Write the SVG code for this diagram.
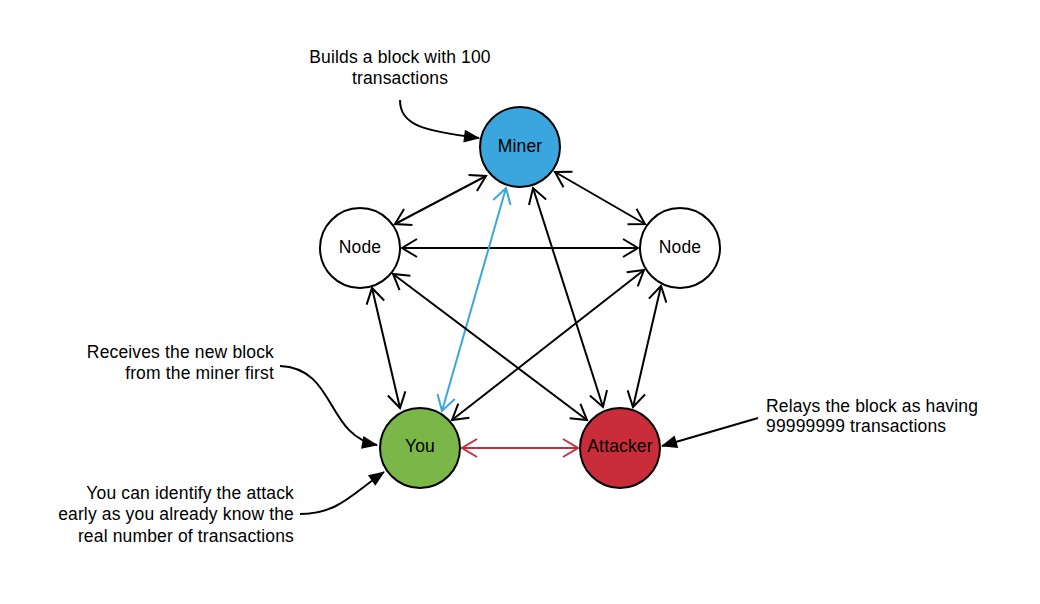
<svg xmlns="http://www.w3.org/2000/svg" width="1040" height="604" viewBox="0 0 1040 604">
<defs>
<style>
.n{stroke:#000;stroke-width:2}
.t{font-family:"Liberation Sans",Arial,sans-serif;font-size:17.5px;letter-spacing:0.15px;fill:#000}
.c{fill:none;stroke:#000;stroke-width:2}
.blue{stroke:#3aa6dd}
.red{stroke:#c92d39}
</style>
<marker id="o" markerUnits="userSpaceOnUse" viewBox="-17 -11 20 22" refX="0" refY="0" markerWidth="20" markerHeight="22" orient="auto-start-reverse">
<path d="M-15,-9 L0,0 L-15,9" fill="none" stroke="#000" stroke-width="2"/>
</marker>
<marker id="ob" markerUnits="userSpaceOnUse" viewBox="-17 -11 20 22" refX="0" refY="0" markerWidth="20" markerHeight="22" orient="auto-start-reverse">
<path d="M-15,-9 L0,0 L-15,9" fill="none" stroke="#3aa6dd" stroke-width="2"/>
</marker>
<marker id="or" markerUnits="userSpaceOnUse" viewBox="-17 -11 20 22" refX="0" refY="0" markerWidth="20" markerHeight="22" orient="auto-start-reverse">
<path d="M-15,-9 L0,0 L-15,9" fill="none" stroke="#c92d39" stroke-width="2"/>
</marker>
<marker id="f" markerUnits="userSpaceOnUse" viewBox="-16 -8 18 16" refX="0" refY="0" markerWidth="18" markerHeight="16" orient="auto">
<path d="M-15,-6.5 L1,0 L-15,6.5 Z" fill="#000"/>
</marker>
</defs>
<rect width="1040" height="604" fill="#fff"/>
<g id="connectors">
<line class="c" x1="486" y1="176" x2="395" y2="224" marker-start="url(#o)" marker-end="url(#o)"/>
<line class="c" x1="555" y1="172" x2="645" y2="224" marker-start="url(#o)" marker-end="url(#o)"/>
<line class="c" x1="402" y1="248" x2="638" y2="248" marker-start="url(#o)" marker-end="url(#o)"/>
<line class="c blue" x1="506" y1="188" x2="442" y2="411" marker-start="url(#ob)" marker-end="url(#ob)"/>
<line class="c" x1="533" y1="188" x2="603" y2="407" marker-start="url(#o)" marker-end="url(#o)"/>
<line class="c" x1="372" y1="288" x2="400" y2="408" marker-start="url(#o)" marker-end="url(#o)"/>
<line class="c" x1="393" y1="274" x2="587" y2="420" marker-start="url(#o)" marker-end="url(#o)"/>
<line class="c" x1="644" y1="270" x2="452" y2="420" marker-start="url(#o)" marker-end="url(#o)"/>
<line class="c" x1="661" y1="286" x2="633" y2="407" marker-start="url(#o)" marker-end="url(#o)"/>
<line class="c red" x1="462" y1="448" x2="578" y2="448" marker-start="url(#or)" marker-end="url(#or)"/>
<path class="c" d="M400,100 C400,126 425,131 479,138" marker-end="url(#f)"/>
<path class="c" d="M280,366 C336,368 326,436 377,445" marker-end="url(#f)"/>
<path class="c" d="M300,514 C338,514 352,494 384,472" marker-end="url(#f)"/>
<path class="c" d="M758,418 L662,446" marker-end="url(#f)"/>
</g>
<g id="miner">
<circle class="n" cx="520" cy="147" r="40" fill="#3aa6dd"/>
<text class="t" x="520" y="151.5" text-anchor="middle">Miner</text>
</g>
<g id="node-left">
<circle class="n" cx="360" cy="248" r="40" fill="#fff"/>
<text class="t" x="360" y="252.5" text-anchor="middle">Node</text>
</g>
<g id="node-right">
<circle class="n" cx="680" cy="248" r="40" fill="#fff"/>
<text class="t" x="680" y="252.5" text-anchor="middle">Node</text>
</g>
<g id="you">
<circle class="n" cx="420" cy="448" r="40" fill="#7ab648"/>
<text class="t" x="420" y="451.5" text-anchor="middle">You</text>
</g>
<g id="attacker">
<circle class="n" cx="620" cy="448" r="40" fill="#c92d39"/>
<text class="t" x="620" y="451.5" text-anchor="middle">Attacker</text>
</g>
<g id="note-miner">
<text class="t" text-anchor="middle"><tspan x="400" y="63">Builds a block with 100</tspan><tspan x="400" y="84">transactions</tspan></text>
</g>
<g id="note-receives">
<text class="t" text-anchor="end"><tspan x="274" y="357.5">Receives the new block</tspan><tspan x="274" y="379">from the miner first</tspan></text>
</g>
<g id="note-identify">
<text class="t" text-anchor="end"><tspan x="294" y="498.5">You can identify the attack</tspan><tspan x="294" y="520">early as you already know the</tspan><tspan x="294" y="541.5">real number of transactions</tspan></text>
</g>
<g id="note-relays">
<text class="t"><tspan x="766" y="411.5">Relays the block as having</tspan><tspan x="766" y="432">99999999 transactions</tspan></text>
</g>
</svg>
